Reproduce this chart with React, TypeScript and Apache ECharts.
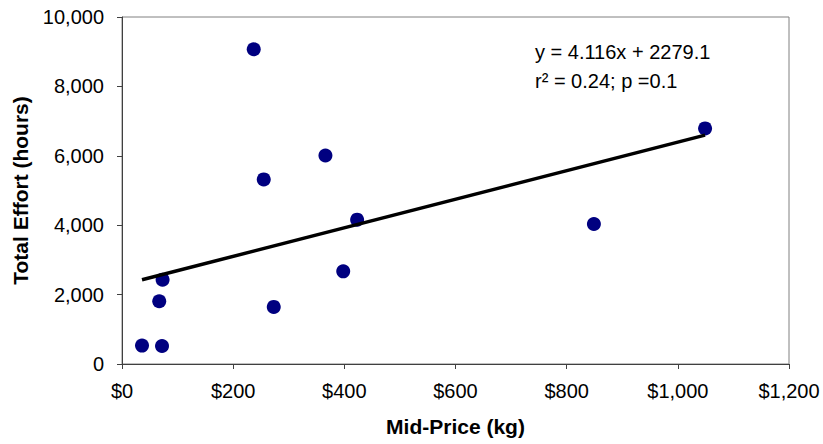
import React, { useEffect, useRef } from "react";
import * as echarts from "echarts";

const midPrice = [237, 366, 255, 423, 398, 73, 67, 273, 36, 72, 1049, 849];
const totalEffort = [9070, 6010, 5320, 4160, 2670, 2430, 1810, 1645, 530, 520, 6790, 4035];
const trendSlope = 4.116;
const trendIntercept = 2279.1;
const equationLine = "y = 4.116x + 2279.1";
const statsLine = "r² = 0.24; p =0.1";
const xTitle = "Mid-Price (kg)";
const yTitle = "Total Effort (hours)";

const FONT = "'Liberation Sans', Arial, Helvetica, sans-serif";

export default function App() {
  const ref = useRef<HTMLDivElement>(null);
  useEffect(() => {
    if (!ref.current) return;
    const chart = echarts.init(ref.current, undefined, { renderer: "svg" });
    const points = midPrice.map((x, i) => [x, totalEffort[i]]);
    const xMin = Math.min(...midPrice);
    const xMax = Math.max(...midPrice);
    const trend = [
      [xMin, trendSlope * xMin + trendIntercept],
      [xMax, trendSlope * xMax + trendIntercept],
    ];
    const fmt = (v: number) => v.toLocaleString("en-US");
    chart.setOption({
      animation: false,
      backgroundColor: "#ffffff",
      grid: {
        left: 122,
        right: 34,
        top: 17,
        bottom: 80,
        show: true,
        borderColor: "#808080",
        borderWidth: 1,
        backgroundColor: "transparent",
      },
      xAxis: {
        type: "value",
        min: 0,
        max: 1200,
        interval: 200,
        name: xTitle,
        nameLocation: "middle",
        nameGap: 52,
        nameTextStyle: { fontFamily: FONT, fontSize: 21, fontWeight: "bold", color: "#000" },
        axisLine: { show: true, lineStyle: { color: "#404040", width: 1 } },
        axisTick: { show: true, inside: false, length: 5, lineStyle: { color: "#404040" } },
        splitLine: { show: false },
        axisLabel: {
          margin: 17,
          fontFamily: FONT,
          fontSize: 20,
          color: "#000",
          formatter: (v: number) => "$" + fmt(v),
        },
      },
      yAxis: {
        type: "value",
        min: 0,
        max: 10000,
        interval: 2000,
        name: yTitle,
        nameLocation: "middle",
        nameGap: 91,
        nameRotate: 90,
        nameTextStyle: { fontFamily: FONT, fontSize: 21, fontWeight: "bold", color: "#000" },
        axisLine: { show: true, lineStyle: { color: "#404040", width: 1 } },
        axisTick: { show: true, inside: false, length: 5, lineStyle: { color: "#404040" } },
        splitLine: { show: false },
        axisLabel: {
          margin: 18,
          fontFamily: FONT,
          fontSize: 20,
          color: "#000",
          formatter: (v: number) => fmt(v),
        },
      },
      graphic: [
        {
          type: "text",
          x: 535,
          y: 52,
          style: {
            text: equationLine,
            font: `20px ${FONT}`,
            fill: "#000",
            textVerticalAlign: "middle",
          },
        },
        {
          type: "text",
          x: 535,
          y: 81,
          style: {
            text: statsLine,
            font: `20px ${FONT}`,
            fill: "#000",
            textVerticalAlign: "middle",
          },
        },
      ],
      series: [
        {
          type: "scatter",
          data: points,
          symbol: "circle",
          symbolSize: 14,
          itemStyle: { color: "#000080", opacity: 1 },
        },
        {
          type: "line",
          data: trend,
          symbol: "none",
          lineStyle: { color: "#000", width: 3.5 },
        },
      ],
    });
    return () => chart.dispose();
  }, []);
  return <div ref={ref} style={{ width: 823, height: 444, position: "absolute", left: 0, top: 0 }} />;
}
